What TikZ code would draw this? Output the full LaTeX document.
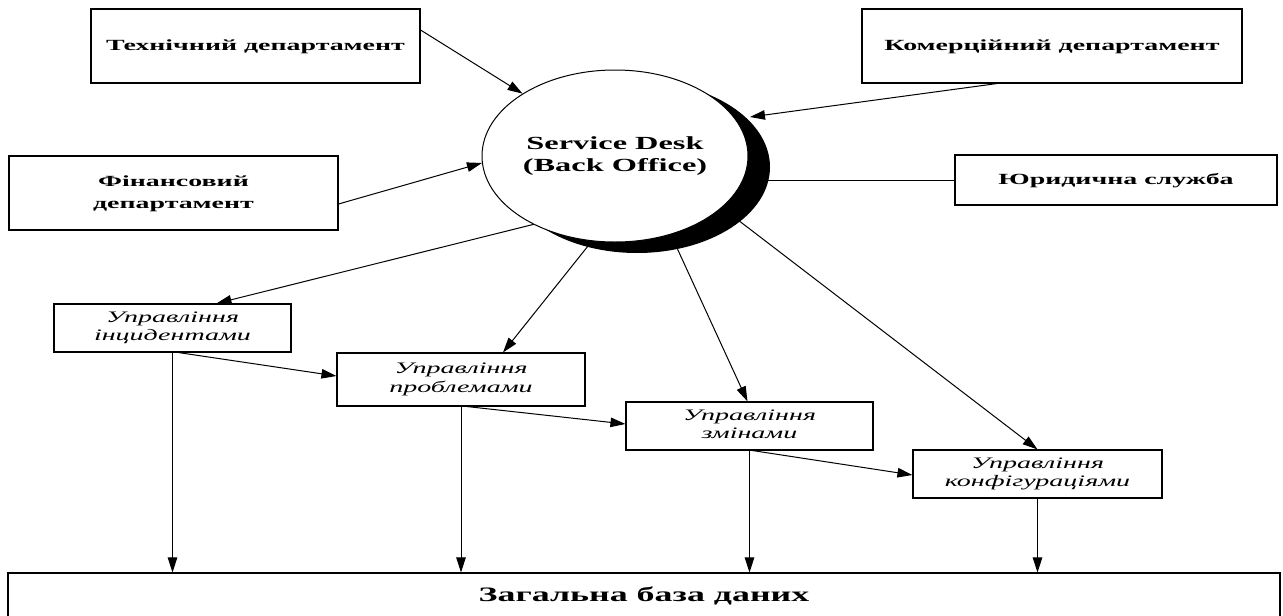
\documentclass[tikz,border=0pt]{standalone}
\usepackage{fontspec}
\setmainfont{Liberation Serif}
\usepackage{graphicx}
\usetikzlibrary{arrows.meta,shapes.geometric,shadows,backgrounds}
\newcommand\widetxt[2][1.75]{\scalebox{#1}[1]{\begin{tabular}{@{}c@{}}#2\end{tabular}}}
\begin{document}
\begin{tikzpicture}[x=1pt,y=-1pt,
  box/.style={draw,line width=1.1pt,rectangle,inner sep=0pt,fill=white},
  dept/.style={box,font=\fontsize{15.5}{22}\selectfont\bfseries},
  mgmt/.style={box,font=\fontsize{16}{18.5}\selectfont\itshape},
  conn/.style={line width=1pt},
  arr/.style={conn,-{Triangle[length=15pt,width=9.5pt]}}]
\useasboundingbox (0,0) rectangle (1283,616);
% nodes
\node[dept,minimum width=329pt,minimum height=74pt] (tech) at (255.5,46) {\widetxt[1.8]{Технічний департамент}};
\node[dept,minimum width=380pt,minimum height=74pt] (comm) at (1052,46) {\widetxt[1.8]{Комерційний департамент}};
\node[dept,minimum width=329pt,minimum height=74pt] (fin) at (173.5,193) {\widetxt[1.8]{Фінансовий\\департамент}};
\node[dept,minimum width=322pt,minimum height=50pt] (jur) at (1116,180) {\widetxt[1.8]{Юридична служба}};
\node[ellipse,draw,line width=1pt,fill=white,inner sep=0pt,minimum width=266pt,minimum height=172pt,
  font=\fontsize{18.5}{21.5}\selectfont\bfseries,
  drop shadow={shadow xshift=22pt,shadow yshift=-11pt,fill=black,opacity=1}] (sd) at (615,156)
  {\widetxt{Service Desk\\(Back Office)}};
\node[mgmt,minimum width=237pt,minimum height=48pt] (inc) at (172.5,328) {\widetxt{Управління\\інцидентами}};
\node[mgmt,minimum width=248pt,minimum height=53pt] (prob) at (461,379.5) {\widetxt{Управління\\проблемами}};
\node[mgmt,minimum width=247pt,minimum height=48pt] (chg) at (749.5,426) {\widetxt{Управління\\змінами}};
\node[mgmt,minimum width=249pt,minimum height=48pt] (cfg) at (1037.5,474) {\widetxt{Управління\\конфігураціями}};
\node[box,font=\fontsize{20.5}{24}\selectfont\bfseries,minimum width=1272pt,minimum height=47pt] (db) at (644,596.5) {\widetxt{Загальна база даних}};
% anchor points on the ellipse / shadow
\coordinate (sdComm) at ([shift={(135,-39)}]sd.center);
\coordinate (sdJur) at ([shift={(150,24)}]sd.center);
\coordinate (sdInc) at ([shift={(-80,68)}]sd.center);
\coordinate (sdProb) at ([shift={(-27,90)}]sd.center);
\coordinate (sdChg) at ([shift={(62,92)}]sd.center);
\coordinate (sdCfg) at ([shift={(123,64)}]sd.center);
\begin{pgfonlayer}{background}
\draw[arr] ([shift={(0,-16)}]tech.east) -- (sd.146);
\draw[arr] ([shift={(-55,0)}]comm.south) -- (sdComm);
\draw[arr] ([shift={(0,11)}]fin.east) -- (sd.183);
\draw[conn] (jur.west) -- (sdJur);
\draw[arr] (sdInc) -- ([shift={(44,0)}]inc.north);
\draw[arr] (sdProb) -- ([shift={(42,0)}]prob.north);
\draw[arr] (sdChg) -- ([shift={(-2,0)}]chg.north);
\draw[arr] (sdCfg) -- (cfg.north);
\draw[arr] ([shift={(6,0)}]inc.south) -- ([shift={(0,-3.5)}]prob.west);
\draw[arr] ([shift={(6,0)}]prob.south) -- ([shift={(0,-2)}]chg.west);
\draw[arr] ([shift={(3,0)}]chg.south) -- ([shift={(0,1)}]cfg.west);
\draw[arr] (inc.south) -- (inc.south |- db.north);
\draw[arr] (prob.south) -- (prob.south |- db.north);
\draw[arr] (chg.south) -- (chg.south |- db.north);
\draw[arr] (cfg.south) -- (cfg.south |- db.north);
\end{pgfonlayer}
\end{tikzpicture}
\end{document}
